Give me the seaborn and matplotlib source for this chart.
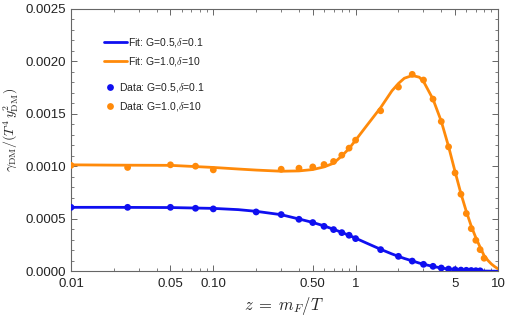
import numpy as np
import pandas as pd
import matplotlib
matplotlib.use("Agg")
import matplotlib.pyplot as plt
import matplotlib.ticker as mticker
import seaborn as sns

# ---- data ----
blue_col = "#0f0ff0"
orange_col = "#ff8a0a"

# fit curves (G=0.5, delta=0.1) and (G=1.0, delta=10)
fit_z = [0.01, 0.02, 0.05, 0.1, 0.15, 0.2, 0.3, 0.4, 0.5, 0.6, 0.7, 0.8, 0.9, 1.0,
         1.2, 1.5, 1.8, 2.0, 2.2, 2.5, 2.8, 3.0, 3.5, 4.0, 4.5, 5.0, 5.5, 6.0,
         6.5, 7.0, 7.5, 8.0, 8.5, 9.0, 9.5, 10.0]
fit_blue = [0.00061, 0.00061, 0.000608, 0.000600, 0.000588, 0.000572, 0.00054,
            0.000499, 0.000466, 0.000433, 0.000401, 0.000371, 0.000343, 0.000316,
            0.000268, 0.00021, 0.000166, 0.000143, 0.000123, 0.0001, 0.000079,
            0.000068, 0.000047, 0.000032, 0.000022, 0.000016, 0.000012, 0.000009,
            0.000007, 0.000005, 0.000004, 0.000003, 0.0000025, 0.000002, 0.0000015,
            0.000001]
fit_orange = [0.001015, 0.001012, 0.00101, 0.00099, 0.000975, 0.000965, 0.000954,
              0.000957, 0.00097, 0.000995, 0.00103, 0.0011, 0.00117, 0.00125,
              0.00139, 0.00156, 0.00172, 0.00179, 0.00184, 0.001866, 0.00185,
              0.00181, 0.00164, 0.00143, 0.00119, 0.00095, 0.00074, 0.00057,
              0.00043, 0.00032, 0.00023, 0.00015, 0.000105, 0.00007, 0.000045,
              0.000025]

# data points
blue_z = [0.01, 0.025, 0.05, 0.075, 0.1, 0.2, 0.3, 0.4, 0.5, 0.6, 0.7, 0.8, 0.9,
          1.0, 1.5, 2.0, 2.5, 3.0, 3.5, 4.0, 4.5, 5.0, 5.5, 6.0, 6.5, 7.0, 7.5]
blue_y = [0.00061, 0.00061, 0.00061, 0.000601, 0.000595, 0.000566, 0.000541,
          0.000496, 0.000465, 0.000429, 0.000398, 0.000369, 0.000344, 0.000312,
          0.000207, 0.000143, 0.000098, 0.000067, 0.000048, 0.000032, 0.000022,
          0.000016, 0.000012, 0.00001, 0.000008, 0.000006, 0.000005]
orange_z = [0.01, 0.025, 0.05, 0.075, 0.1, 0.3, 0.4, 0.5, 0.6, 0.7, 0.8, 0.9, 1.0,
            1.5, 2.0, 2.5, 3.0, 3.5, 4.0, 4.5, 5.0, 5.5, 6.0, 6.5, 7.0, 7.5, 8.0]
orange_y = [0.00101, 0.00099, 0.001015, 0.001002, 0.000967, 0.000973, 0.000983,
            0.000995, 0.001018, 0.001047, 0.001107, 0.001174, 0.00125, 0.00153,
            0.001756, 0.001877, 0.001823, 0.001641, 0.001428, 0.001186, 0.000938,
            0.000735, 0.000551, 0.000407, 0.000296, 0.000207, 0.000125]

fit_labels = ["Fit: G=0.5,$\\delta$=0.1", "Fit: G=1.0,$\\delta$=10"]
data_labels = ["Data: G=0.5,$\\delta$=0.1", "Data: G=1.0,$\\delta$=10"]

x_ticks = [0.01, 0.05, 0.1, 0.5, 1, 5, 10]
x_ticklabels = ["0.01", "0.05", "0.10", "0.50", "1", "5", "10"]

# ---- plot ----
sns.set_style("ticks")
plt.rcParams["font.family"] = ["Liberation Sans", "DejaVu Sans"]
plt.rcParams["mathtext.fontset"] = "cm"

fig = plt.figure(figsize=(5.06, 3.2), dpi=100)
ax = fig.add_axes([0.1403, 0.152, 0.8437, 0.820])

df_fit = pd.DataFrame({
    "z": fit_z * 2,
    "y": fit_blue + fit_orange,
    "s": [fit_labels[0]] * len(fit_z) + [fit_labels[1]] * len(fit_z),
})
df_dat = pd.DataFrame({
    "z": blue_z + orange_z,
    "y": blue_y + orange_y,
    "s": [data_labels[0]] * len(blue_z) + [data_labels[1]] * len(orange_z),
})

sns.lineplot(data=df_fit, x="z", y="y", hue="s", ax=ax, lw=2.0,
             palette=[blue_col, orange_col], sort=True)
sns.scatterplot(data=df_dat, x="z", y="y", hue="s", ax=ax, s=24,
                palette=[blue_col, orange_col], edgecolor="none", zorder=3)

ax.set_xscale("log")
ax.set_xlim(0.01, 10)
ax.set_ylim(0, 0.0025)
ax.set_xticks(x_ticks)
ax.set_xticklabels(x_ticklabels)
ax.xaxis.set_minor_locator(mticker.LogLocator(base=10, subs=np.arange(2, 10)))
ax.xaxis.set_minor_formatter(mticker.NullFormatter())
ax.yaxis.set_major_locator(mticker.MultipleLocator(0.0005))
ax.yaxis.set_minor_locator(mticker.MultipleLocator(0.0001))
ax.yaxis.set_major_formatter(mticker.FormatStrFormatter("%.4f"))

for s in ax.spines.values():
    s.set_color("#666666")
    s.set_linewidth(0.8)
ax.tick_params(which="both", direction="in", top=True, right=True,
               color="#666666", labelsize=9.5, labelcolor="#222222")
ax.tick_params(which="major", length=4, width=0.7)
ax.tick_params(which="minor", length=2.2, width=0.6)
ax.tick_params(axis="x", pad=5)

ax.set_xlabel("$z\\;=\\;m_F/T$", fontsize=12)
ax.xaxis.set_label_coords(0.5, -0.09)
ax.set_ylabel("$\\gamma_{\\rm DM}/(T^4\\, y_{\\rm DM}^2)$", fontsize=10)
ax.yaxis.set_label_coords(-0.119, 0.54)

# legend split in two groups (fits, then data) like the reference
h, l = ax.get_legend_handles_labels()
leg1 = ax.legend(h[:2], l[:2], loc="upper left", bbox_to_anchor=(0.077, 0.897),
                 frameon=False, fontsize=7.5, handlelength=2.2, handletextpad=0.15,
                 labelspacing=0.55, borderpad=0, borderaxespad=0)
ax.add_artist(leg1)
leg2 = ax.legend(h[2:], l[2:], loc="upper left", bbox_to_anchor=(0.079, 0.725),
                 frameon=False, fontsize=7.5, handlelength=1.0, handletextpad=0.4,
                 labelspacing=0.55, borderpad=0, borderaxespad=0)
for lg in (leg1, leg2):
    for t in lg.get_texts():
        t.set_color("#222222")

fig.savefig("out.png", dpi=100)
